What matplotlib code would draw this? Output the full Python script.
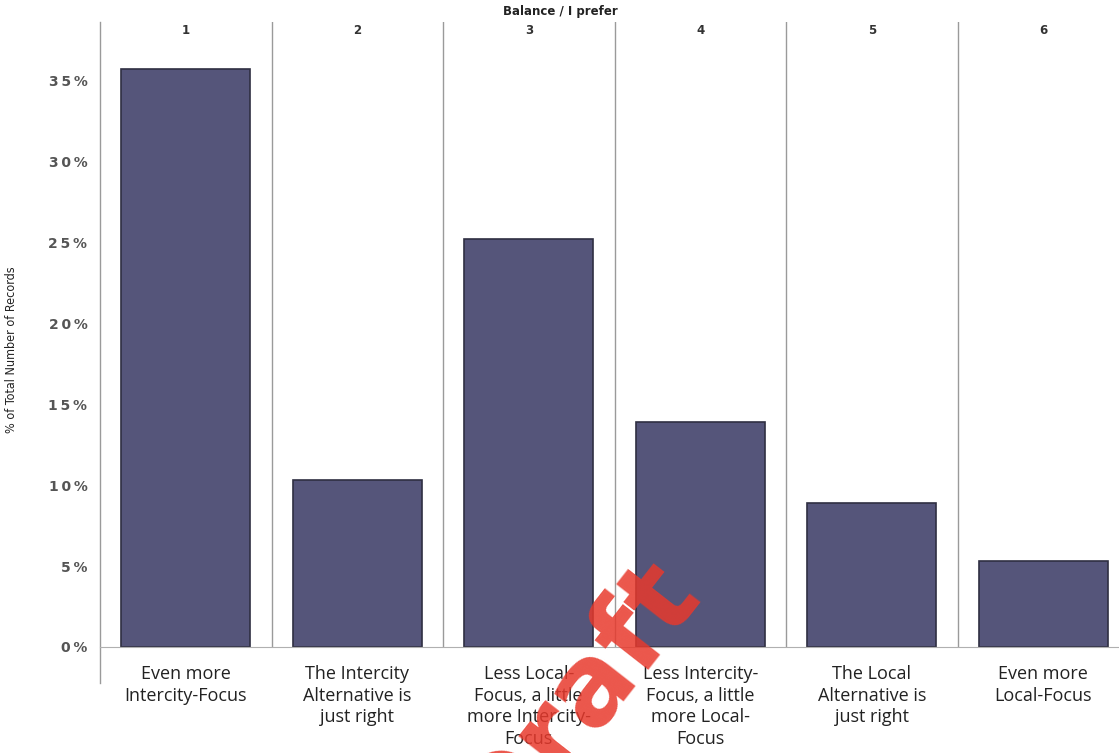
import matplotlib.pyplot as plt
import matplotlib.transforms as mtransforms

# Datos
posiciones = ["1", "2", "3", "4", "5", "6"]
categorias = [
    "Even more\nIntercity-Focus",
    "The Intercity\nAlternative is\njust right",
    "Less Local-\nFocus, a little\nmore Intercity-\nFocus",
    "Less Intercity-\nFocus, a little\nmore Local-\nFocus",
    "The Local\nAlternative is\njust right",
    "Even more\nLocal-Focus",
]
porcentajes = [35.7, 10.3, 25.2, 13.9, 8.9, 5.3]
ticks_y = [0, 5, 10, 15, 20, 25, 30, 35]

W, H = 1119, 753
fig = plt.figure(figsize=(W / 100, H / 100), dpi=100)

# Ejes (el panel 6 se sale un poco por la derecha, como en la imagen)
x0, x1 = 100, 1129
y_top, y_bot = 22, 647
ax = fig.add_axes([x0 / W, 1 - y_bot / H, (x1 - x0) / W, (y_bot - y_top) / H])

x = range(len(porcentajes))
ax.bar(x, porcentajes, width=0.75, color="#55557a", edgecolor="#2f2f42", linewidth=1.2)

ax.set_xlim(-0.5, len(porcentajes) - 0.5)
ax.set_ylim(0, 38.6)

# Separadores de paneles
for i in range(1, len(porcentajes)):
    ax.axvline(i - 0.5, color="#9a9a9a", lw=1)
ax.plot([-0.5, -0.5], [-2.2, 38.6], color="#9a9a9a", lw=1, clip_on=False)

for s in ["top", "right", "left"]:
    ax.spines[s].set_visible(False)
ax.spines["bottom"].set_color("#b0b0b0")

# Eje Y
ax.set_yticks(ticks_y)
ax.set_yticklabels(["\u2009".join(f"{t}%") for t in ticks_y], fontsize=10,
                   color="#555555", fontweight="bold")
ax.tick_params(axis="y", length=0, pad=9)
ax.set_ylabel("% of Total Number of Records", fontsize=9, color="#222222",
              family="DejaVu Sans", fontstretch="condensed")
ax.yaxis.set_label_coords(-82 / (x1 - x0), 0.475)

# Eje X: categorias abajo
ax.set_xticks(list(x))
ax.set_xticklabels(categorias, fontsize=13, color="#222222", family="Open Sans",
                   linespacing=1.26)
ax.tick_params(axis="x", length=0, pad=13)

# Numeros arriba
trans = mtransforms.blended_transform_factory(ax.transData, ax.transAxes)
for i, p in enumerate(posiciones):
    ax.text(i, 1 - 9 / (y_bot - y_top), p, transform=trans, ha="center", va="center",
            fontsize=8.5, color="#333333", fontweight="bold")

fig.text(560 / W, 1 - 12 / H, "Balance / I prefer", ha="center", va="center",
         fontsize=8.5, fontweight="bold", color="#222222")

# Marca de agua
fig.text(700 / W, 1 - 590 / H, "Draft", ha="right", va="baseline", rotation=52,
         rotation_mode="anchor", fontsize=80, fontweight="bold", color="#e8392c",
         alpha=0.85)

fig.savefig("out.png", dpi=100)
